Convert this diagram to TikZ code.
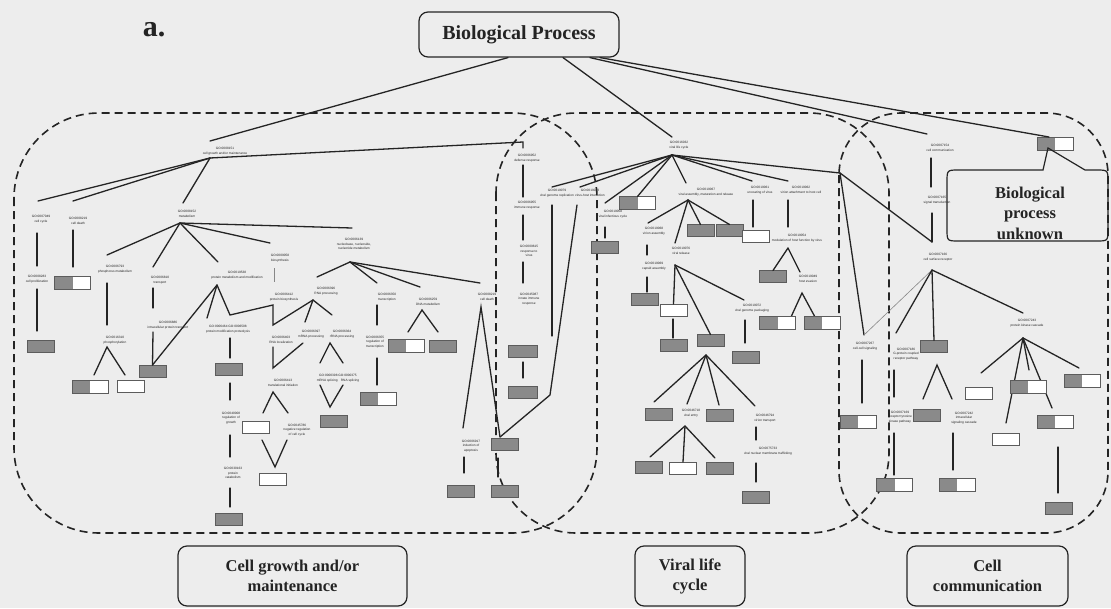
\documentclass[tikz,border=0pt]{standalone}
\usepackage{fontspec}
\setmainfont{Liberation Serif}
\newfontfamily\gofont{Liberation Sans}
\definecolor{bgc}{RGB}{237,237,237}
\definecolor{ink}{RGB}{36,36,36}
\definecolor{boxg}{RGB}{138,138,138}
\definecolor{boxe}{RGB}{92,92,92}
\tikzset{
  edge/.style={draw=ink, line width=1.3pt, line cap=round},
  faint/.style={draw=ink!55, line width=0.6pt},
  region/.style={draw=ink, line width=1.6pt, dash pattern=on 8pt off 5pt},
  gb/.style={draw=boxe, fill=boxg, line width=0.7pt, minimum width=27pt, minimum height=12pt, inner sep=0pt, outer sep=0pt},
  wb/.style={gb, fill=white},
  gw/.style={gb, fill=white, minimum width=36pt, minimum height=13pt,
    path picture={\fill[boxg] (path picture bounding box.south west) rectangle (path picture bounding box.north);}},
  go/.style={font=\gofont\fontsize{3.2}{4.6}\selectfont, align=center, inner sep=0.4pt, text=ink},
  heading/.style={draw=ink, line width=1.2pt, rounded corners=9pt, align=center, inner sep=0pt, text=ink,
    font=\bfseries\fontsize{16.5}{20}\selectfont},
}
\begin{document}
\begin{tikzpicture}[x=1pt,y=-1pt]
\fill[bgc] (0,0) rectangle (1111,608);
\useasboundingbox (0,0) rectangle (1111,608);

% ---------- dashed groupings ----------
\draw[region, rounded corners=85pt] (14,113) rectangle (597,533);
\draw[region, rounded corners=80pt] (496,113) rectangle (889,533);
\draw[region, rounded corners=62pt] (839,113) rectangle (1108,533);

% ---------- headings ----------
\node[text=ink, font=\bfseries\fontsize{30}{32}\selectfont] (panel) at (154,30) {a.};
\node[heading, font=\bfseries\fontsize{20}{22}\selectfont, minimum width=200pt, minimum height=45pt] (bp) at (519,34.5) {Biological Process};
\node[heading, minimum width=229pt, minimum height=60pt] (cgbox) at (292.5,576) {Cell growth and/or\\maintenance};
\node[heading, minimum width=110pt, minimum height=60pt] (vlbox) at (690,576) {Viral life\\cycle};
\node[heading, minimum width=161pt, minimum height=60pt] (ccbox) at (987.5,576) {Cell\\communication};

% unknown-process box and its callout
\node[gw] (unk) at (1055,143.5) {};
\coordinate (tip) at (1048,148);
\draw[draw=ink, line width=1.2pt] (947,182) .. controls (947,170) .. (959,170) -- (1043,170) -- (tip) -- (1085,170) -- (1096,170)
  .. controls (1108,170) .. (1108,182) -- (1108,229) .. controls (1108,241) .. (1096,241) -- (959,241)
  .. controls (947,241) .. (947,229) -- cycle;
\node[text=ink, align=center, font=\bfseries\fontsize{16.5}{20.5}\selectfont] (unktxt) at (1030,213) {Biological\\process\\unknown};

% ---------- junction points ----------
\coordinate (cgIn) at (210,141);   \coordinate (cgJ) at (210,158);
\coordinate (ccyIn) at (38,201);   \coordinate (cdeIn) at (73,201);   \coordinate (metIn) at (183,203);
\coordinate (defBend) at (523,142); \coordinate (defIn) at (523,148);
\coordinate (ccyA) at (37,233);  \coordinate (ccyB) at (37,266);
\coordinate (cprA) at (37,289);  \coordinate (cprB) at (37,331);
\coordinate (cdeA) at (73,230);  \coordinate (cdeB) at (73,267);
\coordinate (metJ) at (180,223);
\coordinate (phoIn) at (107,255); \coordinate (trnIn) at (153,267); \coordinate (prmIn) at (218,262);
\coordinate (bioIn) at (270,243); \coordinate (nnmIn) at (352,228);
\coordinate (phoA) at (107,283); \coordinate (phoB) at (107,325);
\coordinate (phyJ) at (107,347); \coordinate (phyL) at (94,375); \coordinate (phyR) at (125,375);
\coordinate (trnA) at (153,288); \coordinate (trnB) at (153,308); \coordinate (itpA) at (153,332);
\coordinate (prmJ) at (217,285); \coordinate (pmdIn) at (207,318);
\coordinate (zz1) at (230,315); \coordinate (zz2) at (273,305); \coordinate (zz3) at (273,325);
\coordinate (rnpJ) at (313,300);
\coordinate (bioA) at (274,268); \coordinate (bioB) at (274,282);
\coordinate (nnmJ) at (350,262);
\coordinate (rnpIn) at (317,277); \coordinate (trcIn) at (377,283); \coordinate (dnaIn) at (420,287); \coordinate (cdtIn) at (480,283);
\coordinate (mrpIn) at (305,322); \coordinate (rrpIn) at (332,315);
\coordinate (rnlA) at (273,347); \coordinate (rnlB) at (273,368); \coordinate (rnlC) at (303,343);
\coordinate (tslJ) at (273,392); \coordinate (tslL) at (263,413); \coordinate (tslR) at (288,413);
\coordinate (vL) at (262,440); \coordinate (vB) at (275,467); \coordinate (vR) at (287,440);
\coordinate (pmdA) at (230,338); \coordinate (pmdB) at (230,358);
\coordinate (pmdC) at (230,383); \coordinate (pmdD) at (230,400);
\coordinate (pmdE) at (230,435); \coordinate (pmdF) at (230,457);
\coordinate (pmdG) at (230,488); \coordinate (pmdH) at (230,507);
\coordinate (rrpJ) at (330,343); \coordinate (rrpL) at (320,363); \coordinate (rrpR) at (343,363);
\coordinate (splL) at (320,385); \coordinate (splB) at (330,407); \coordinate (splR) at (343,385);
\coordinate (trcA) at (377,305); \coordinate (trcB) at (377,325);
\coordinate (rtrA) at (377,358); \coordinate (rtrB) at (377,385);
\coordinate (dnaJ) at (422,310); \coordinate (dnaL) at (408,332); \coordinate (dnaR) at (438,332);
\coordinate (cdtJ) at (481,307); \coordinate (iapIn) at (463,428); \coordinate (b15In) at (500,437);
\coordinate (iapA) at (464,457); \coordinate (iapB) at (464,473);
\coordinate (arA) at (498,458); \coordinate (arB) at (498,477);
\coordinate (defA) at (523,165); \coordinate (defB) at (523,197);
\coordinate (immA) at (523,215); \coordinate (immB) at (523,240);
\coordinate (rviA) at (523,262); \coordinate (rviB) at (523,283);
\coordinate (b17A) at (523,362); \coordinate (b17B) at (523,378);
\coordinate (vlcIn) at (672,137); \coordinate (vlcJ) at (672,155);
\coordinate (vgrIn) at (552,187); \coordinate (vhiIn) at (580,187); \coordinate (vicIn) at (605,203);
\coordinate (vaeIn) at (686,183); \coordinate (uncIn) at (752,181); \coordinate (vatIn) at (788,181); \coordinate (vbJ) at (840,173);
\coordinate (vgrOut) at (552,205); \coordinate (vhiOut) at (577,205); \coordinate (vhiBend) at (550,395);
\coordinate (vicA) at (605,227); \coordinate (vicB) at (605,238);
\coordinate (vaeJ) at (688,200); \coordinate (vasIn) at (648,223); \coordinate (vrlIn) at (675,243);
\coordinate (vasA) at (647,245); \coordinate (vasB) at (647,255);
\coordinate (casA) at (647,277); \coordinate (casB) at (647,292);
\coordinate (vrlJ) at (675,265); \coordinate (vgpIn) at (744,300);
\coordinate (v6A) at (673,319); \coordinate (v6B) at (673,338);
\coordinate (vgpA) at (745,320); \coordinate (vgpB) at (745,343);
\coordinate (v8J) at (706,355); \coordinate (v14In) at (654,402); \coordinate (vtrIn) at (687,404);
\coordinate (v15In) at (719,405); \coordinate (vtpIn) at (755,406);
\coordinate (vtrJ) at (685,426); \coordinate (v16In) at (650,457); \coordinate (v18In) at (715,458);
\coordinate (vtpA) at (756,427); \coordinate (vtpB) at (756,440);
\coordinate (nmtA) at (756,463); \coordinate (nmtB) at (756,482);
\coordinate (uncA) at (753,200); \coordinate (uncB) at (753,227);
\coordinate (vatA) at (788,200); \coordinate (vatB) at (788,227);
\coordinate (mhfJ) at (788,248); \coordinate (hevIn) at (800,272);
\coordinate (hevJ) at (802,293); \coordinate (hevL) at (791,317); \coordinate (hevR) at (815,317);
\coordinate (ccsIn) at (864,335); \coordinate (ccsA) at (862,360); \coordinate (ccsB) at (862,403);
\coordinate (comIn) at (927,134);
\coordinate (comA) at (931,158); \coordinate (comB) at (931,187);
\coordinate (sgtA) at (932,213); \coordinate (sgtB) at (932,242);
\coordinate (csrJ) at (932,270); \coordinate (gprIn) at (896,333); \coordinate (pkcIn) at (1023,313);
\coordinate (gprA) at (894,370); \coordinate (gprB) at (894,397);
\coordinate (rtkA) at (894,433); \coordinate (rtkB) at (894,475);
\coordinate (c2J) at (937,365); \coordinate (c4In) at (923,399); \coordinate (iscIn) at (952,399);
\coordinate (iscA) at (953,433); \coordinate (iscB) at (953,470);
\coordinate (pkcJ) at (1023,338); \coordinate (c6In) at (981,373); \coordinate (c7In) at (1029,370);
\coordinate (c8In) at (1006,423); \coordinate (c9In) at (1052,408); \coordinate (c10In) at (1079,368);
\coordinate (c9A) at (1058,447); \coordinate (c9B) at (1058,493);

% ---------- connectors from the root ----------
\draw[edge] ([xshift=-11pt]bp.south) -- (cgIn);
\draw[edge] ([xshift=44pt]bp.south) -- (vlcIn);
\draw[edge] ([xshift=71pt]bp.south) -- (comIn);
\draw[edge] ([xshift=81pt]bp.south) -- ([xshift=-6pt]unk.north);

% ---------- cell growth and/or maintenance ----------
\draw[edge] (cgJ) -- (ccyIn);
\draw[edge] (cgJ) -- (cdeIn);
\draw[edge] (cgJ) -- (metIn);
\draw[edge] (cgJ) -- (defBend) -- (defIn);
\draw[edge] (ccyA) -- (ccyB);
\draw[edge] (cprA) -- (cprB);
\draw[edge] (cdeA) -- (cdeB);
\draw[edge] (metJ) -- (phoIn);
\draw[edge] (metJ) -- (trnIn);
\draw[edge] (metJ) -- (prmIn);
\draw[edge] (metJ) -- (bioIn);
\draw[edge] (metJ) -- (nnmIn);
\draw[edge] (phoA) -- (phoB);
\draw[edge] (phyL) -- (phyJ) -- (phyR);
\draw[edge] (trnA) -- (trnB);
\draw[edge] (prmJ) -- (pmdIn);
\draw[edge] (prmJ) -- (zz1) -- (zz2) -- (zz3) -- (rnpJ);
\draw[faint] (bioA) -- (bioB);
\draw[edge] (nnmJ) -- (rnpIn);
\draw[edge] (nnmJ) -- (trcIn);
\draw[edge] (nnmJ) -- (dnaIn);
\draw[edge] (nnmJ) -- (cdtIn);
\draw[edge] (rnpJ) -- (mrpIn);
\draw[edge] (rnpJ) -- (rrpIn);
\draw[edge] (rnlA) -- (rnlB) -- (rnlC);
\draw[edge] (tslL) -- (tslJ) -- (tslR);
\draw[edge] (vL) -- (vB) -- (vR);
\draw[edge] (pmdA) -- (pmdB);
\draw[edge] (pmdC) -- (pmdD);
\draw[edge] (pmdE) -- (pmdF);
\draw[edge] (pmdG) -- (pmdH);
\draw[edge] (rrpL) -- (rrpJ) -- (rrpR);
\draw[edge] (splL) -- (splB) -- (splR);
\draw[edge] (trcA) -- (trcB);
\draw[edge] (rtrA) -- (rtrB);
\draw[edge] (dnaL) -- (dnaJ) -- (dnaR);
\draw[edge] (iapIn) -- (cdtJ) -- (b15In);
\draw[edge] (iapA) -- (iapB);
\draw[edge] (arA) -- (arB);
\draw[edge] (defA) -- (defB);
\draw[edge] (immA) -- (immB);
\draw[edge] (rviA) -- (rviB);
\draw[edge] (b17A) -- (b17B);

% ---------- viral life cycle ----------
\draw[edge] (vlcJ) -- (vgrIn);
\draw[edge] (vlcJ) -- (vhiIn);
\draw[edge] (vlcJ) -- (vicIn);
\draw[edge] (vlcJ) -- (vaeIn);
\draw[edge] (vlcJ) -- (uncIn);
\draw[edge] (vlcJ) -- (vatIn);
\draw[edge] (vlcJ) -- (vbJ);
\draw[edge] (vgrOut) -- (vgrOut |- 0,336);
\draw[edge] (vhiOut) -- (vhiBend) -- (b15In);
\draw[edge] (vicA) -- (vicB);
\draw[edge] (vaeJ) -- (vasIn);
\draw[edge] (vaeJ) -- (vrlIn);
\draw[edge] (vasA) -- (vasB);
\draw[edge] (casA) -- (casB);
\draw[edge] (vrlJ) -- (vgpIn);
\draw[edge] (v6A) -- (v6B);
\draw[edge] (vgpA) -- (vgpB);
\draw[edge] (v8J) -- (v14In);
\draw[edge] (v8J) -- (vtrIn);
\draw[edge] (v8J) -- (v15In);
\draw[edge] (v8J) -- (vtpIn);
\draw[edge] (vtrJ) -- (v16In);
\draw[edge] (vtrJ) -- (v18In);
\draw[edge] (vtpA) -- (vtpB);
\draw[edge] (nmtA) -- (nmtB);
\draw[edge] (uncA) -- (uncB);
\draw[edge] (vatA) -- (vatB);
\draw[edge] (mhfJ) -- (hevIn);
\draw[edge] (hevL) -- (hevJ) -- (hevR);
\draw[edge] (vbJ) -- (ccsIn);
\draw[edge] (vbJ) -- (sgtB);
\draw[faint] (ccsIn) -- (csrJ);
\draw[edge] (ccsA) -- (ccsB);

% ---------- cell communication ----------
\draw[edge] (comA) -- (comB);
\draw[edge] (sgtA) -- (sgtB);
\draw[edge] (csrJ) -- (gprIn);
\draw[edge] (csrJ) -- (pkcIn);
\draw[edge] (gprA) -- (gprB);
\draw[edge] (rtkA) -- (rtkB);
\draw[edge] (c4In) -- (c2J) -- (iscIn);
\draw[edge] (iscA) -- (iscB);
\draw[edge] (pkcJ) -- (c6In);
\draw[edge] (pkcJ) -- (c7In);
\draw[edge] (pkcJ) -- (c8In);
\draw[edge] (pkcJ) -- (c9In);
\draw[edge] (pkcJ) -- (c10In);
\draw[edge] (c9A) -- (c9B);

% ---------- gene boxes ----------
\node[gb] (b1) at (40.5,346) {};
\node[gw] (b2) at (72.5,282.5) {};
\node[gw] (b3) at (90,386.5) {};
\node[wb] (b4) at (130.5,386.5) {};
\node[gb] (b5) at (152.5,371) {};
\draw[edge] (prmJ) -- (b5.north);
\draw[edge] (itpA) -- (b5.north);
\node[gb] (b6) at (229,369) {};
\node[wb] (b7) at (255.5,427.5) {};
\node[wb] (b8) at (272.5,479) {};
\node[gb] (b9) at (228.5,519.5) {};
\node[gb] (b10) at (333.5,421) {};
\node[gw] (b11) at (378,398.5) {};
\node[gw] (b12) at (406,346) {};
\node[gb] (b13) at (442.5,346) {};
\node[gb] (b14) at (460.5,491) {};
\node[gb] (b15) at (505,444) {};
\node[gb] (b16) at (505,491) {};
\node[gb, minimum width=29pt] (b17) at (522.5,351.5) {};
\node[gb, minimum width=29pt] (b18) at (522.5,392.5) {};

\node[gb] (v1) at (605,247.5) {};
\node[gw] (v2) at (637.5,203) {};
\draw[edge] (vlcJ) -- (v2.north);
\node[gb] (v3) at (700.5,230.5) {};
\node[gb] (v4) at (729.5,230.5) {};
\draw[edge] (vaeJ) -- (v3.north);
\draw[edge] (vaeJ) -- (v4.north);
\node[gb] (v5) at (645,299.5) {};
\node[wb] (v6) at (673.5,310) {};
\node[gb] (v7) at (674,345.5) {};
\node[gb] (v8) at (710.5,340.5) {};
\draw[edge] (vrlJ) -- (v6.north);
\draw[edge] (vrlJ) -- (v8.north);
\node[gb] (v9) at (746,357.5) {};
\node[wb] (v10) at (755.5,236.5) {};
\node[gb] (v11) at (773,276.5) {};
\draw[edge] (mhfJ) -- (v11.north);
\node[gw] (v12) at (777.5,323) {};
\node[gw] (v13) at (822,323) {};
\node[gb] (v14) at (658.5,414.5) {};
\node[gb] (v15) at (719.5,415.5) {};
\node[gb] (v16) at (648.5,467) {};
\node[wb] (v17) at (683,468) {};
\draw[edge] (vtrJ) -- (v17.north);
\node[gb] (v18) at (719.5,468) {};
\node[gb] (v19) at (755.5,497) {};

\node[gw] (c1) at (858,421.5) {};
\node[gb] (c2) at (934,346.5) {};
\draw[edge] (csrJ) -- (c2.north);
\node[gw] (c3) at (894.5,484.5) {};
\node[gb] (c4) at (926.5,415.5) {};
\node[gw] (c5) at (957,484.5) {};
\node[wb] (c6) at (979,393) {};
\node[gw] (c7) at (1028,387) {};
\node[wb] (c8) at (1006,439) {};
\node[gw] (c9) at (1055,421.5) {};
\node[gw] (c10) at (1082,380.5) {};
\node[gb] (c11) at (1059,508.5) {};

% ---------- GO term labels ----------
\node[go] (cg)  at (225,151) {GO:0008151\\cell growth and/or maintenance};
\node[go] (ccy) at (41,219)  {GO:0007049\\cell cycle};
\node[go] (cde) at (78,221)  {GO:0008219\\cell death};
\node[go] (cpr) at (37,279)  {GO:0008283\\cell proliferation};
\node[go] (met) at (187,214) {GO:0008152\\metabolism};
\node[go] (pho) at (115,269) {GO:0006793\\phosphorus metabolism};
\node[go] (phy) at (115,340) {GO:0016310\\phosphorylation};
\node[go] (trn) at (160,280) {GO:0006810\\transport};
\node[go] (itp) at (168,325) {GO:0006886\\intracellular protein transport};
\node[go] (prm) at (237,275) {GO:0019538\\protein metabolism and modification};
\node[go] (pmd) at (228,329) {GO:0006464 GO:0006508\\protein modification proteolysis};
\node[go] (bio) at (280,258) {GO:0009058\\biosynthesis};
\node[go] (pbs) at (284,297) {GO:0006412\\protein biosynthesis};
\node[go] (nnm) at (354,244) {GO:0006139\\nucleobase, nucleoside,\\nucleotide metabolism};
\node[go] (rnp) at (326,291) {GO:0006396\\RNA processing};
\node[go] (rnl) at (281,340) {GO:0006403\\RNA localization};
\node[go] (mrp) at (311,334) {GO:0006397\\mRNA processing};
\node[go] (rrp) at (342,334) {GO:0006364\\rRNA processing};
\node[go] (tsl) at (283,383) {GO:0006413\\translational initiation};
\node[go] (rgr) at (231,418) {GO:0040008\\regulation of\\growth};
\node[go] (ncc) at (297,430) {GO:0045786\\negative regulation\\of cell cycle};
\node[go] (pct) at (233,473) {GO:0030163\\protein\\catabolism};
\node[go] (spl) at (338,378) {GO:0000398 GO:0000375\\mRNA splicing\quad RNA splicing};
\node[go] (trc) at (387,297) {GO:0006350\\transcription};
\node[go] (rtr) at (375,342) {GO:0006355\\regulation of\\transcription};
\node[go] (dna) at (428,302) {GO:0006259\\DNA metabolism};
\node[go] (cdt) at (487,297) {GO:0008219\\cell death};
\node[go] (iap) at (471,446) {GO:0006917\\induction of\\apoptosis};
\node[go] (def) at (527,158) {GO:0006952\\defense response};
\node[go] (imm) at (527,205) {GO:0006955\\immune response};
\node[go] (rvi) at (529,251) {GO:0009615\\response to\\virus};
\node[go] (iir) at (529,299) {GO:0045087\\innate immune\\response};

\node[go] (vlc) at (679,145) {GO:0016032\\viral life cycle};
\node[go] (vgr) at (557,193) {GO:0019079\\viral genome replication};
\node[go] (vhi) at (590,193) {GO:0019048\\virus-host interaction};
\node[go] (vic) at (613,214) {GO:0019058\\viral infectious cycle};
\node[go] (vae) at (706,192) {GO:0019067\\viral assembly, maturation and release};
\node[go] (vas) at (654,231) {GO:0019068\\virion assembly};
\node[go] (cas) at (654,266) {GO:0019069\\capsid assembly};
\node[go] (vrl) at (681,251) {GO:0019076\\viral release};
\node[go] (vgp) at (752,308) {GO:0019072\\viral genome packaging};
\node[go] (unc) at (760,190) {GO:0019061\\uncoating of virus};
\node[go] (vat) at (801,190) {GO:0019062\\virion attachment to host cell};
\node[go] (mhf) at (797,238) {GO:0019054\\modulation of host function by virus};
\node[go] (hev) at (808,279) {GO:0019049\\host evasion};
\node[go] (vtr) at (691,413) {GO:0046718\\viral entry};
\node[go] (vtp) at (765,418) {GO:0046794\\virion transport};
\node[go] (nmt) at (768,451) {GO:0075733\\viral nuclear membrane trafficking};

\node[go] (com) at (940,148) {GO:0007154\\cell communication};
\node[go] (sgt) at (937,200) {GO:0007165\\signal transduction};
\node[go] (csr) at (938,257) {GO:0007166\\cell surface receptor};
\node[go] (ccs) at (865,346) {GO:0007267\\cell-cell signaling};
\node[go] (gpr) at (906,354) {GO:0007186\\G-protein coupled\\receptor pathway};
\node[go] (rtk) at (900,417) {GO:0007169\\receptor tyrosine\\kinase pathway};
\node[go] (isc) at (964,418) {GO:0007242\\intracellular\\signaling cascade};
\node[go] (pkc) at (1027,323) {GO:0007243\\protein kinase cascade};
\end{tikzpicture}
\end{document}
